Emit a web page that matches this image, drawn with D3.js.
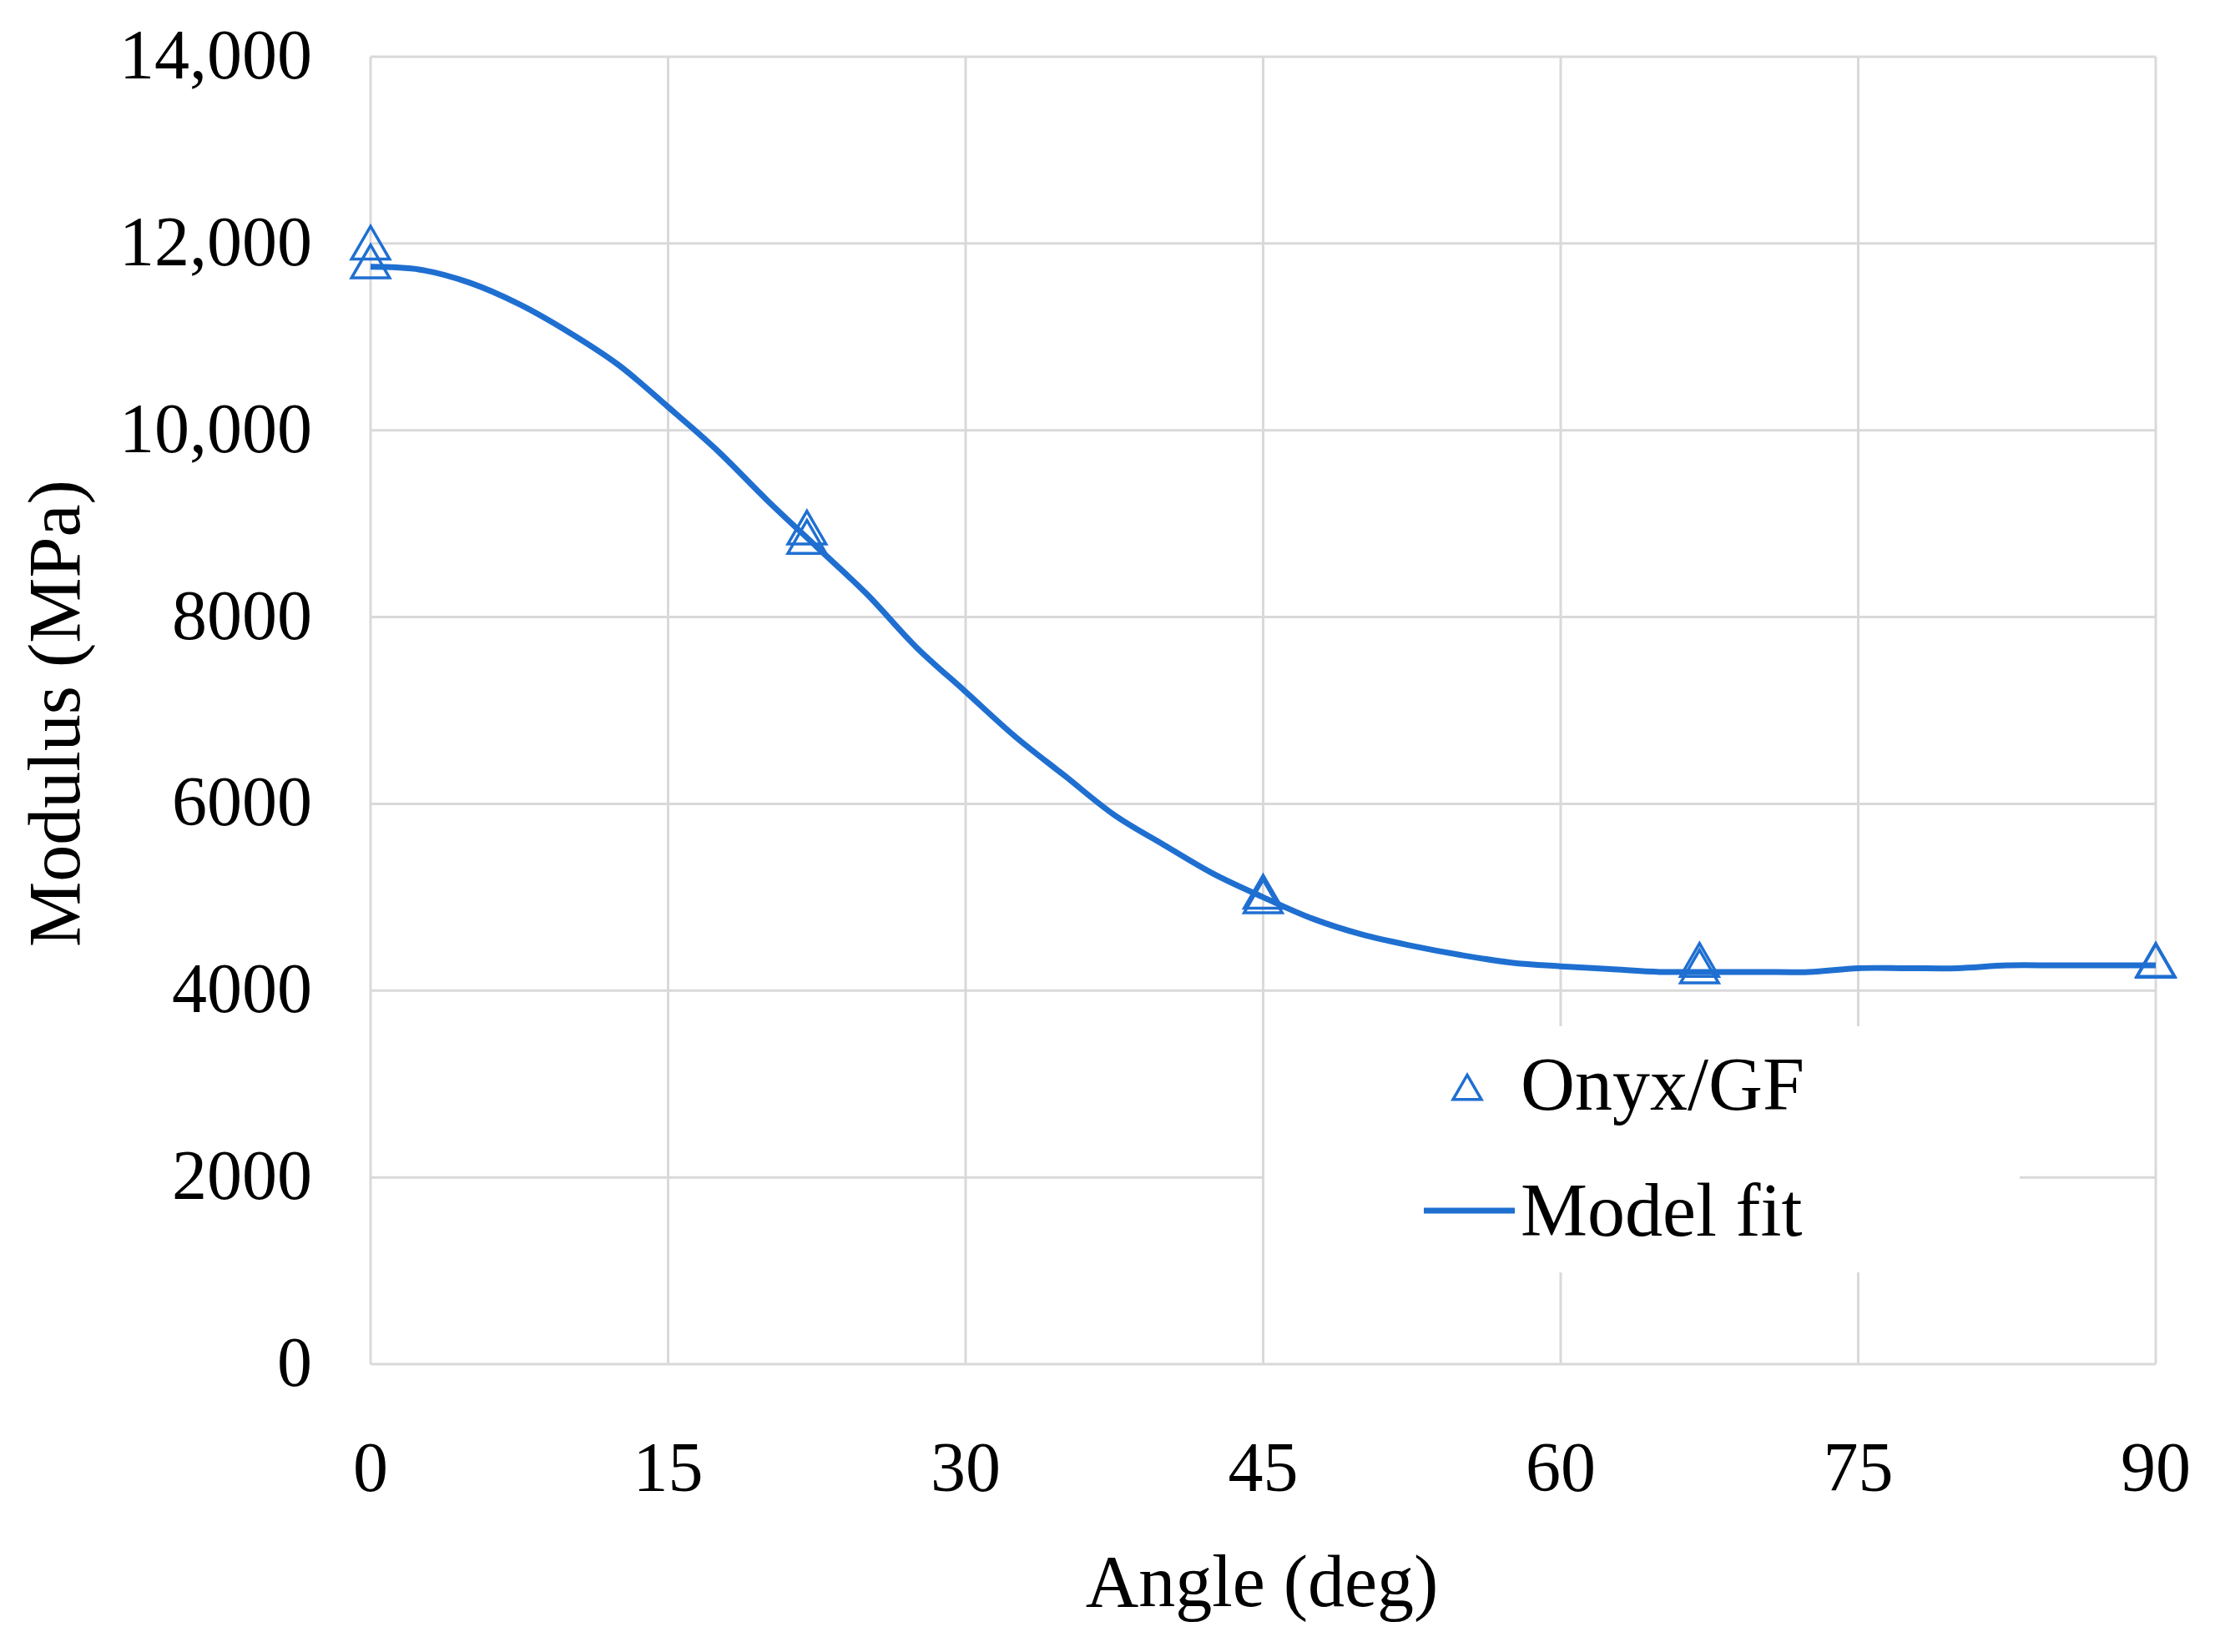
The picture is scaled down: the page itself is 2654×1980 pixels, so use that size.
<!DOCTYPE html>
<html><head><meta charset="utf-8">
<script src="https://cdn.jsdelivr.net/npm/d3@7"></script>
<style>body{margin:0;background:#fff}</style></head>
<body><svg id="c" width="2654" height="1980"></svg>
<script>
const xTicks=[0,15,30,45,60,75,90];
const yTicks=[0,2000,4000,6000,8000,10000,12000,14000];
const yTickLabels=["0","2000","4000","6000","8000","10,000","12,000","14,000"];
const dataAngle=[0,0,22,22,45,45,67,67,90,90];
const dataModulus=[11950,11750,8900,8800,5000,4950,4270,4200,4270,4260];
const fitAngle=[0,2.5,5,7.5,10,12.5,15,17.5,20,22.5,25,27.5,30,32.5,35,37.5,40,42.5,45,47.5,50,52.5,55,57.5,60,62.5,65,67.5,70,72.5,75,77.5,80,82.5,85,87.5,90];
const fitModulus=[11750,11720,11580,11350,11050,10700,10250,9780,9250,8750,8250,7680,7200,6720,6300,5880,5560,5250,5000,4770,4600,4480,4380,4300,4260,4230,4200,4200,4200,4200,4240,4240,4240,4270,4270,4270,4270];
const blue="#1f6fd1", grid="#d9d9d9", font="'Liberation Serif','DejaVu Serif',serif";
const svg=d3.select("#c");
const x=d3.scaleLinear().domain([0,90]).range([444,2583]);
const y=d3.scaleLinear().domain([0,14000]).range([1635,68]);
const g=svg.append("g");
g.selectAll(".vg").data(xTicks).join("line").attr("x1",d=>x(d)).attr("x2",d=>x(d)).attr("y1",y(0)).attr("y2",y(14000)).attr("stroke",grid).attr("stroke-width",3);
g.selectAll(".hg").data(yTicks).join("line").attr("x1",x(0)).attr("x2",x(90)).attr("y1",d=>y(d)).attr("y2",d=>y(d)).attr("stroke",grid).attr("stroke-width",3);
g.selectAll(".xl").data(xTicks).join("text").attr("x",d=>x(d)).attr("y",1787).attr("text-anchor","middle").attr("font-family",font).attr("font-size",84).text(d=>d);
g.selectAll(".yl").data(yTicks).join("text").attr("x",374).attr("y",d=>y(d)+26).attr("text-anchor","end").attr("font-family",font).attr("font-size",84).text((d,i)=>yTickLabels[i]);
svg.append("text").attr("x",1512).attr("y",1925).attr("text-anchor","middle").attr("font-family",font).attr("font-size",88).text("Angle (deg)");
svg.append("text").attr("transform","translate(95,855) rotate(-90)").attr("text-anchor","middle").attr("font-family",font).attr("font-size",88).text("Modulus (MPa)");
svg.append("rect").attr("x",1515).attr("y",1230).attr("width",905).attr("height",295).attr("fill","#fff");
svg.append("path").datum(fitAngle.map((a,i)=>[a,fitModulus[i]])).attr("d",d3.line().x(d=>x(d[0])).y(d=>y(d[1])).curve(d3.curveCatmullRom)).attr("fill","none").attr("stroke",blue).attr("stroke-width",7);
const tri=d3.symbol().type(d3.symbolTriangle).size(900);
svg.selectAll(".pt").data(dataAngle.map((a,i)=>[a,dataModulus[i]])).join("path").attr("d",tri).attr("transform",d=>`translate(${x(d[0])},${y(d[1])})`).attr("fill","none").attr("stroke",blue).attr("stroke-width",3.5);
svg.append("path").attr("d",d3.symbol().type(d3.symbolTriangle).size(500)).attr("transform","translate(1758,1308)").attr("fill","none").attr("stroke",blue).attr("stroke-width",3.5);
svg.append("text").attr("x",1822).attr("y",1330).attr("font-family",font).attr("font-size",90).text("Onyx/GF");
svg.append("line").attr("x1",1706).attr("x2",1815).attr("y1",1451).attr("y2",1451).attr("stroke",blue).attr("stroke-width",7);
svg.append("text").attr("x",1822).attr("y",1481).attr("font-family",font).attr("font-size",90).text("Model fit");
</script></body></html>
